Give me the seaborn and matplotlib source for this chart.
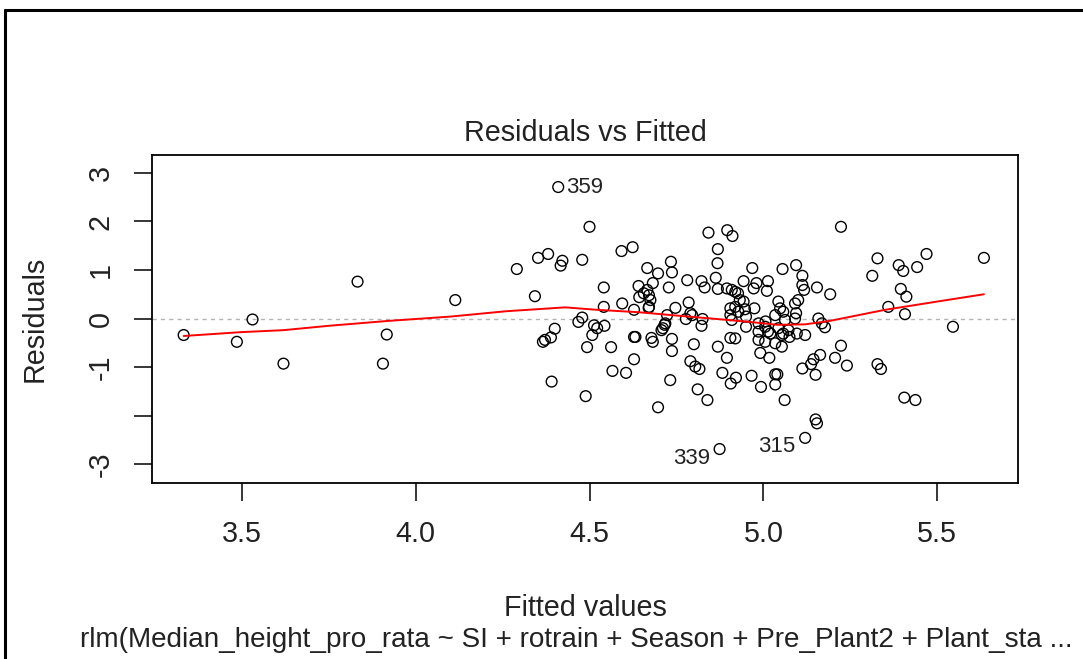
import matplotlib
matplotlib.use("Agg")
import matplotlib.pyplot as plt
import seaborn as sns
import pandas as pd
from matplotlib.lines import Line2D

# ---------------- data ----------------
fitted = [
    3.333, 3.486, 3.531, 3.620, 3.833, 3.917, 3.906, 4.114,
    4.410, 4.500, 4.291, 4.352, 4.381, 4.422, 4.417, 4.479, 4.343, 4.592, 4.624,
    4.541, 4.594, 4.628, 4.541, 4.468, 4.479, 4.400, 4.389, 4.366, 4.372, 4.513,
    4.522, 4.543, 4.508, 4.493, 4.562, 4.628, 4.628, 4.566, 4.605, 4.391, 4.489,
    4.641, 4.666, 4.671, 4.656, 4.675, 4.643, 4.671, 4.682, 4.666, 4.697, 4.737,
    4.734, 4.728, 4.781, 4.822, 4.831, 4.863, 4.869, 4.895, 4.919, 4.943, 4.968,
    4.980, 5.013, 5.010, 5.055, 5.094, 5.112, 5.112, 4.842, 4.896, 4.911, 4.869,
    4.868, 4.670, 4.723, 4.747, 4.785, 4.790, 4.777, 4.825, 4.822, 4.711, 4.718,
    4.707, 4.632, 4.678, 4.682, 4.737, 4.737, 4.800, 4.869, 4.895, 4.905, 4.919,
    4.790, 4.804, 4.816, 4.732, 4.697, 4.811, 4.839, 4.882, 4.906, 4.921, 4.966,
    4.993, 4.991, 5.017, 5.034, 5.040, 5.034, 5.061, 5.112, 5.137, 5.144, 5.163,
    5.150, 4.874, 5.120, 4.795, 4.716, 4.909, 4.927, 4.932, 4.943, 4.972, 4.905,
    4.905, 4.919, 4.928, 4.947, 4.974, 4.950, 4.909, 4.950, 4.986, 4.986, 5.005,
    5.020, 5.043, 5.048, 5.057, 5.034, 5.062, 5.091, 5.094, 5.091, 5.043, 5.057,
    5.072, 5.096, 5.120, 5.158, 5.168, 5.177, 4.986, 5.034, 5.053, 5.005, 5.075,
    5.013, 5.053, 5.006, 5.223, 5.328, 5.389, 5.402, 5.442, 5.469, 5.634, 5.313,
    5.117, 5.100, 5.154, 5.192, 5.395, 5.411, 5.359, 5.407, 5.545, 5.223, 5.206,
    5.240, 5.328, 5.338, 5.405, 5.437, 5.150, 5.154,
]
residuals = [
    -0.34, -0.48, -0.02, -0.93, 0.76, -0.33, -0.93, 0.38,
    2.71, 1.89, 1.02, 1.25, 1.33, 1.19, 1.09, 1.21, 0.46, 1.39, 1.47,
    0.64, 0.31, 0.18, 0.24, -0.07, 0.02, -0.21, -0.39, -0.48, -0.44, -0.14,
    -0.20, -0.15, -0.34, -0.59, -0.59, -0.38, -0.84, -1.08, -1.12, -1.30, -1.60,
    0.67, 0.59, 0.48, 0.52, 0.38, 0.44, 0.24, 0.73, 1.04, 0.93, 0.95,
    1.17, 0.64, 0.79, 0.77, 0.64, 0.84, 0.61, 0.62, 0.55, 0.77, 1.04,
    0.73, 0.77, 0.57, 1.02, 1.10, 0.88, 0.69, 1.77, 1.82, 1.70, 1.43,
    1.14, 0.22, 0.07, 0.22, 0.33, 0.11, -0.01, -0.01, -0.15, -0.20, -0.10,
    -0.24, -0.38, -0.40, -0.48, -0.42, -0.67, -0.53, -0.58, -0.81, -0.40, -0.41,
    -0.88, -0.99, -1.04, -1.27, -1.83, -1.46, -1.68, -1.12, -1.34, -1.22, -1.18,
    -1.41, -0.71, -0.81, -1.15, -1.15, -1.36, -1.68, -1.03, -0.94, -0.84, -0.75,
    -1.16, -2.69, -2.46, 0.07, -0.13, 0.59, 0.52, 0.38, 0.35, 0.62, 0.21,
    0.07, 0.24, 0.14, 0.19, 0.21, 0.04, -0.03, -0.17, -0.10, -0.27, -0.17,
    -0.31, 0.35, 0.21, 0.14, 0.07, -0.03, 0.31, 0.11, 0.00, -0.20, -0.31,
    -0.24, -0.31, -0.34, 0.00, -0.10, -0.18, -0.44, -0.51, -0.58, -0.48, -0.38,
    -0.27, -0.34, -0.06, 1.89, 1.24, 1.10, 0.98, 1.06, 1.33, 1.25, 0.88,
    0.59, 0.38, 0.64, 0.50, 0.61, 0.45, 0.24, 0.09, -0.17, -0.56, -0.81,
    -0.97, -0.94, -1.04, -1.63, -1.68, -2.08, -2.16,
]

smooth_x = [3.333, 3.50, 3.62, 3.75, 3.92, 4.10, 4.26, 4.43, 4.52, 4.64,
            4.80, 4.85, 4.96, 5.04, 5.12, 5.19, 5.35, 5.50, 5.634]
smooth_y = [-0.36, -0.28, -0.24, -0.15, -0.05, 0.04, 0.15, 0.23, 0.18, 0.13,
            0.03, 0.00, -0.07, -0.13, -0.12, -0.05, 0.18, 0.35, 0.50]

id_labels = ["359", "339", "315"]
id_x = [4.410, 4.874, 5.120]
id_y = [2.71, -2.69, -2.46]

x_ticks = [3.5, 4.0, 4.5, 5.0, 5.5]
x_ticklabels = ["3.5", "4.0", "4.5", "5.0", "5.5"]
y_ticks = [-3, -2, -1, 0, 1, 2, 3]
y_ticklabels = ["-3", "", "-1", "0", "1", "2", "3"]

title_text = "Residuals vs Fitted"
xlabel_text = "Fitted values"
ylabel_text = "Residuals"
caption_text = "rlm(Median_height_pro_rata ~ SI + rotrain + Season + Pre_Plant2 + Plant_sta ..."

# ---------------- figure ----------------
sns.set_theme(style="white")
plt.rcParams["font.family"] = ["Liberation Sans", "DejaVu Sans"]

FS = 20.7
W, H = 1083, 659
fig = plt.figure(figsize=(W / 100, H / 100), dpi=100)
fig.patch.set_facecolor("white")
L, R, T, B = 152, 1018, 155, 483
ax = fig.add_axes([L / W, 1 - B / H, (R - L) / W, (B - T) / H])
ax.set_facecolor("white")

ax.axhline(0, color="#b4b4b4", linestyle=(0, (3, 3)), linewidth=1.0, zorder=0)

df = pd.DataFrame({"fitted": fitted, "resid": residuals})
sns.scatterplot(data=df, x="fitted", y="resid", ax=ax, marker="o", s=60,
                facecolor="none", edgecolor="black", linewidth=1.0, zorder=3)

sns.lineplot(x=smooth_x, y=smooth_y, ax=ax, color="red", linewidth=1.4,
             estimator=None, sort=False, zorder=4)

offsets = [(6, 0), (-7, -6.5), (-7, -6)]
aligns = ["left", "right", "right"]
for lab, xv, yv, off, ha in zip(id_labels, id_x, id_y, offsets, aligns):
    ax.annotate(lab, (xv, yv), xytext=off, textcoords="offset points",
                ha=ha, va="center", fontsize=16, color="#222222")

ax.set_xlim(3.242, 5.732)
ax.set_ylim(-3.39, 3.37)
ax.set_xticks(x_ticks)
ax.set_xticklabels(x_ticklabels)
ax.set_yticks(y_ticks)
ax.set_yticklabels(y_ticklabels, rotation=90, va="center")
ax.set_xlabel("")
ax.set_ylabel("")

for sp in ax.spines.values():
    sp.set_visible(True)
    sp.set_color("black")
    sp.set_linewidth(1.3)

ax.tick_params(axis="both", which="both", direction="out", length=13, width=1.1,
               color="black", labelsize=FS, labelcolor="#222222",
               bottom=True, left=True, top=False, right=False)
ax.tick_params(axis="x", pad=14)
ax.tick_params(axis="y", pad=14)

fig.text((L + R) / 2 / W, 1 - 141 / H, title_text, ha="center", va="baseline",
         fontsize=FS, color="#222222")
fig.text((L + R) / 2 / W, 1 - 616 / H, xlabel_text, ha="center", va="baseline",
         fontsize=FS, color="#222222")
fig.text(80 / W, 1 - 647 / H, caption_text, ha="left", va="baseline",
         fontsize=20.1, color="#222222")
fig.text(35 / W, 1 - ((T + B) / 2) / H, ylabel_text, ha="center", va="center",
         rotation=90, fontsize=FS, color="#222222")

# outer frame (top and left edges visible in the reference)
fig.add_artist(Line2D([5 / W, 1.0], [1 - 10 / H, 1 - 10 / H],
                      transform=fig.transFigure, color="black", linewidth=2.2))
fig.add_artist(Line2D([5 / W, 5 / W], [0.0, 1 - 10 / H],
                      transform=fig.transFigure, color="black", linewidth=2.2))

fig.savefig("out.png", dpi=100, facecolor="white")
